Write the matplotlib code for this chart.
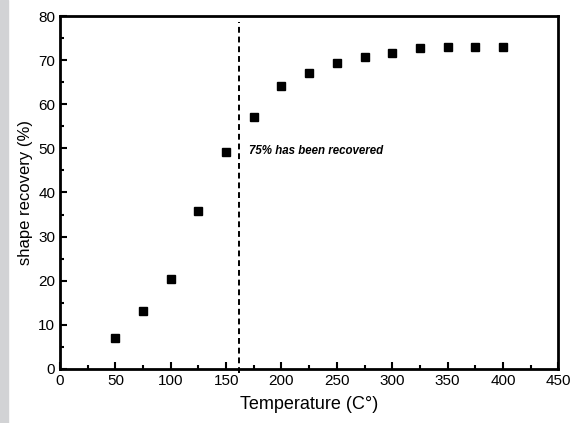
import matplotlib
matplotlib.use('Agg')
import matplotlib.pyplot as plt
from matplotlib.patches import Rectangle
from matplotlib.ticker import MultipleLocator

plt.rcParams['font.family'] = ['Liberation Sans', 'DejaVu Sans']

temperature = [50, 75, 100, 125, 150, 175, 200, 225, 250, 275, 300, 325, 350, 375, 400]
recovery = [7.0, 13.2, 20.4, 35.9, 49.1, 57.0, 64.2, 67.1, 69.4, 70.8, 71.6, 72.7, 73.0, 72.9, 72.9]
threshold_temp = 162
note = '75% has been recovered'

fig = plt.figure(figsize=(5.72, 4.23), dpi=100)
# gray strip on the left edge
fig.patches.append(Rectangle((0, 0), 8 / 572, 1, transform=fig.transFigure,
                             color='#d2d3d5', zorder=0))
ax = fig.add_axes([0.105, 0.128, 0.871, 0.834])

ax.plot(temperature, recovery, 's', color='black', markersize=5.8, linestyle='none')
ax.vlines(threshold_temp, -1, 78.6, color='black', linestyle=(0, (3, 2)),
          linewidth=1.4, clip_on=False)
ax.text(171, 49.5, note, fontsize=8.3, fontweight='bold', fontstyle='italic', va='center')

ax.set_xlim(0, 450)
ax.set_ylim(0, 80)
ax.xaxis.set_major_locator(MultipleLocator(50))
ax.xaxis.set_minor_locator(MultipleLocator(25))
ax.yaxis.set_major_locator(MultipleLocator(10))
ax.yaxis.set_minor_locator(MultipleLocator(5))
ax.tick_params(which='both', direction='in', top=False, right=False, labelsize=11, width=1.5)
ax.tick_params(which='major', length=5)
ax.tick_params(which='minor', length=3)
for s in ax.spines.values():
    s.set_linewidth(2)

ax.set_xlabel('Temperature (C°)', fontsize=13, labelpad=6)
ax.set_ylabel('shape recovery (%)', fontsize=12, labelpad=4)

plt.savefig('out.png', dpi=100)
